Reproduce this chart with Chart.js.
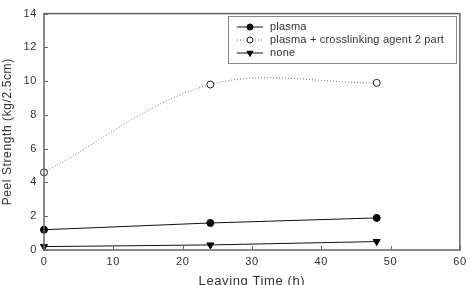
<!DOCTYPE html>
<html>
<head>
<meta charset="utf-8">
<script src="https://cdn.jsdelivr.net/npm/chart.js@4/dist/chart.umd.min.js"></script>
<style>
  html, body { margin: 0; padding: 0; background: #fff; }
  #wrap { width: 471px; height: 285px; }
</style>
</head>
<body>
<div id="wrap"><canvas id="c"></canvas></div>
<script>
// data
const hours = [0, 24, 48];
const plasma = [1.2, 1.6, 1.9];
const plasmaCross = [4.6, 9.8, 9.9];
const none = [0.2, 0.3, 0.5];
const seriesNames = ['plasma', 'plasma + crosslinking agent 2 part', 'none'];
const xTicks = [0, 10, 20, 30, 40, 50, 60];
const yTicks = [0, 2, 4, 6, 8, 10, 12, 14];

const FONT = '"Liberation Sans", Arial, sans-serif';
const axisGray = '#666';

function pts(ys) {
    return hours.map((h, i) => ({ x: h, y: ys[i] }));
}

// frame, inward ticks and boxed legend
const framePlugin = {
    id: 'frame',
    beforeDraw(chart) {
        chart.ctx.letterSpacing = '0.6px';
    },
    afterDraw(chart) {
        const ctx = chart.ctx;
        const a = chart.chartArea;
        const xs = chart.scales.x, ys = chart.scales.y;
        ctx.save();
        ctx.letterSpacing = '0px';
        ctx.strokeStyle = axisGray;
        ctx.lineWidth = 1.5;
        ctx.strokeRect(a.left, a.top, a.right - a.left, a.bottom - a.top);
        ctx.lineWidth = 1;
        ctx.beginPath();
        xTicks.forEach(v => {
            const px = Math.round(xs.getPixelForValue(v)) + 0.5;
            ctx.moveTo(px, a.bottom); ctx.lineTo(px, a.bottom - 4);
        });
        yTicks.forEach(v => {
            const py = Math.round(ys.getPixelForValue(v)) + 0.5;
            ctx.moveTo(a.left, py); ctx.lineTo(a.left + 4, py);
        });
        ctx.stroke();

        // legend box
        const bx = 228, by = 16, bw = 228, bh = 47;
        ctx.strokeStyle = '#888';
        ctx.lineWidth = 1;
        ctx.strokeRect(bx + 0.5, by + 0.5, bw, bh);
        chart.data.datasets.forEach((ds, i) => {
            const y = 27 + i * 13;
            ctx.save();
            ctx.strokeStyle = ds.borderColor;
            ctx.lineWidth = ds.borderWidth;
            ctx.setLineDash(ds.borderDash || []);
            ctx.beginPath();
            ctx.moveTo(237, y); ctx.lineTo(263, y);
            ctx.stroke();
            ctx.setLineDash([]);
            ctx.fillStyle = ds.pointBackgroundColor;
            ctx.strokeStyle = ds.pointBorderColor;
            Chart.helpers.drawPoint(ctx, {
                pointStyle: ds.pointStyle,
                rotation: ds.pointRotation || 0,
                radius: ds.pointRadius - 0.5,
                borderWidth: 1
            }, 250, y);
            ctx.fillStyle = '#333';
            ctx.font = '11px ' + FONT;
            ctx.letterSpacing = '0.2px';
            ctx.textBaseline = 'middle';
            ctx.fillText(ds.label, 270, y);
            ctx.restore();
        });
        ctx.restore();
    }
};

new Chart(document.getElementById('c'), {
    type: 'scatter',
    data: {
        datasets: [
            {
                label: seriesNames[0],
                data: pts(plasma),
                showLine: true,
                borderColor: '#111',
                borderWidth: 1,
                pointStyle: 'circle',
                pointRadius: 3.5,
                pointBackgroundColor: '#000',
                pointBorderColor: '#000'
            },
            {
                label: seriesNames[1],
                data: pts(plasmaCross),
                showLine: true,
                borderColor: '#777',
                borderWidth: 1,
                borderDash: [1, 2],
                tension: 0.35,
                pointStyle: 'circle',
                pointRadius: 3.5,
                pointBackgroundColor: '#fff',
                pointBorderColor: '#222'
            },
            {
                label: seriesNames[2],
                data: pts(none),
                showLine: true,
                borderColor: '#111',
                borderWidth: 1,
                pointStyle: 'triangle',
                pointRotation: 180,
                pointRadius: 4,
                pointBackgroundColor: '#000',
                pointBorderColor: '#000'
            }
        ]
    },
    options: {
        responsive: true,
        maintainAspectRatio: false,
        animation: false,
        clip: false,
        layout: { padding: { top: 7, right: 7, left: 0, bottom: 0 } },
        plugins: {
            legend: { display: false },
            tooltip: { enabled: false }
        },
        scales: {
            x: {
                type: 'linear',
                min: 0,
                max: 60,
                afterBuildTicks(s) { s.ticks = xTicks.map(v => ({ value: v })); },
                afterFit(s) { s.height = 35; },
                grid: { display: false, drawTicks: false },
                border: { display: false },
                ticks: { color: '#333', padding: 5, font: { family: FONT, size: 11 } },
                title: {
                    display: true,
                    text: 'Leaving Time (h)',
                    color: '#333',
                    font: { family: FONT, size: 13 },
                    padding: { top: 0, bottom: -4 }
                }
            },
            y: {
                type: 'linear',
                min: 0,
                max: 14,
                afterBuildTicks(s) { s.ticks = yTicks.map(v => ({ value: v })); },
                afterFit(s) { s.width = 44; },
                grid: { display: false, drawTicks: false },
                border: { display: false },
                ticks: { color: '#333', padding: 7, font: { family: FONT, size: 11 } },
                title: {
                    display: true,
                    text: 'Peel Strength (kg/2.5cm)',
                    color: '#333',
                    font: { family: FONT, size: 12 },
                    padding: { top: 0, bottom: 0 }
                }
            }
        }
    },
    plugins: [framePlugin]
});
</script>
</body>
</html>
